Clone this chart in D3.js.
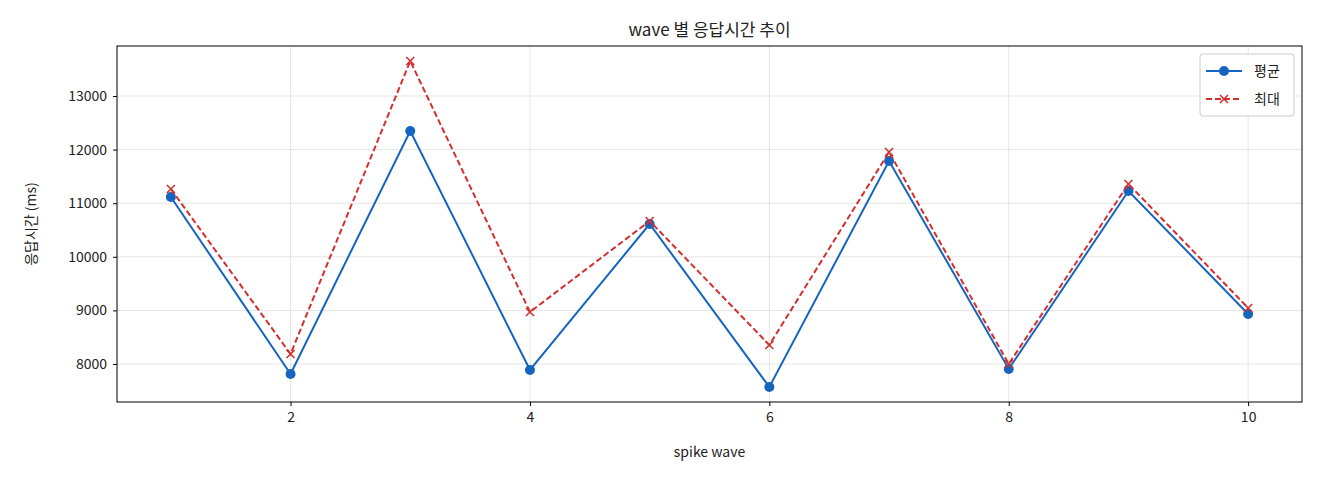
<!DOCTYPE html>
<html><head><meta charset="utf-8">
<script src="https://cdn.jsdelivr.net/npm/d3@7"></script>
<style>body{margin:0;background:#fff}text{font-family:"Noto Sans CJK KR","DejaVu Sans",sans-serif;fill:#222}</style>
</head><body><svg id="c" width="1320" height="480"></svg>
<script>
const waves=[1,2,3,4,5,6,7,8,9,10];
const avgVals=[11116,7813,12347,7888,10612,7571,11787,7907,11228,8933];
const maxVals=[11265,8187,13653,8970,10668,8354,11955,8000,11358,9045];
const xTicks=[2,4,6,8,10];
const yTicks=[8000,9000,10000,11000,12000,13000];
const svg=d3.select("#c");
const L=117,R=1302,T=46,B=402;
const x=d3.scaleLinear().domain([0.55,10.45]).range([L,R]);
const y=d3.scaleLinear().domain([7291,13933]).range([B,T]);
const g=svg.append("g");
xTicks.forEach(t=>g.append("line").attr("x1",x(t)).attr("x2",x(t)).attr("y1",T).attr("y2",B).attr("stroke","#e5e5e5"));
yTicks.forEach(t=>g.append("line").attr("x1",L).attr("x2",R).attr("y1",y(t)).attr("y2",y(t)).attr("stroke","#e5e5e5"));
const xa=svg.append("g").attr("transform",`translate(0,${B})`).call(d3.axisBottom(x).tickValues(xTicks).tickSize(4).tickPadding(6));
const ya=svg.append("g").attr("transform",`translate(${L},0)`).call(d3.axisLeft(y).tickValues(yTicks).tickFormat(d3.format("d")).tickSize(4).tickPadding(6));
[xa,ya].forEach(a=>{a.selectAll("text").attr("font-size",14);a.select(".domain").remove();});
svg.append("rect").attr("x",L).attr("y",T).attr("width",R-L).attr("height",B-T).attr("fill","none").attr("stroke","#000");
const line=d3.line().x((d,i)=>x(waves[i])).y(d=>y(d));
svg.append("path").attr("d",line(avgVals)).attr("fill","none").attr("stroke","#1565c0").attr("stroke-width",2);
svg.selectAll(".dot").data(avgVals).join("circle").attr("cx",(d,i)=>x(waves[i])).attr("cy",d=>y(d)).attr("r",5).attr("fill","#1565c0");
svg.append("path").attr("d",line(maxVals)).attr("fill","none").attr("stroke","#d32f2f").attr("stroke-width",2).attr("stroke-dasharray","6,3");
const cross=(sel,cx,cy)=>{sel.append("path").attr("d",`M${cx-4},${cy-4}L${cx+4},${cy+4}M${cx-4},${cy+4}L${cx+4},${cy-4}`).attr("stroke","#d32f2f").attr("stroke-width",1.6);};
maxVals.forEach((d,i)=>cross(svg,x(waves[i]),y(d)));
svg.append("text").attr("x",(L+R)/2).attr("y",36).attr("text-anchor","middle").attr("font-size",17).text("wave 별 응답시간 추이");
svg.append("text").attr("x",(L+R)/2).attr("y",457).attr("text-anchor","middle").attr("font-size",14).text("spike wave");
svg.append("text").attr("transform",`translate(36,${(T+B)/2}) rotate(-90)`).attr("text-anchor","middle").attr("font-size",14).text("응답시간 (ms)");
const lg=svg.append("g");
lg.append("rect").attr("x",1200).attr("y",54).attr("width",94).attr("height",62).attr("rx",3).attr("fill","#fff").attr("stroke","#ccc");
lg.append("line").attr("x1",1206).attr("x2",1242).attr("y1",71).attr("y2",71).attr("stroke","#1565c0").attr("stroke-width",2);
lg.append("circle").attr("cx",1224).attr("cy",71).attr("r",5).attr("fill","#1565c0");
lg.append("text").attr("x",1254).attr("y",76).attr("font-size",14).text("평균");
lg.append("line").attr("x1",1206).attr("x2",1242).attr("y1",99).attr("y2",99).attr("stroke","#d32f2f").attr("stroke-width",2).attr("stroke-dasharray","6,3");
cross(lg,1224,99);
lg.append("text").attr("x",1254).attr("y",104).attr("font-size",14).text("최대");
</script></body></html>
